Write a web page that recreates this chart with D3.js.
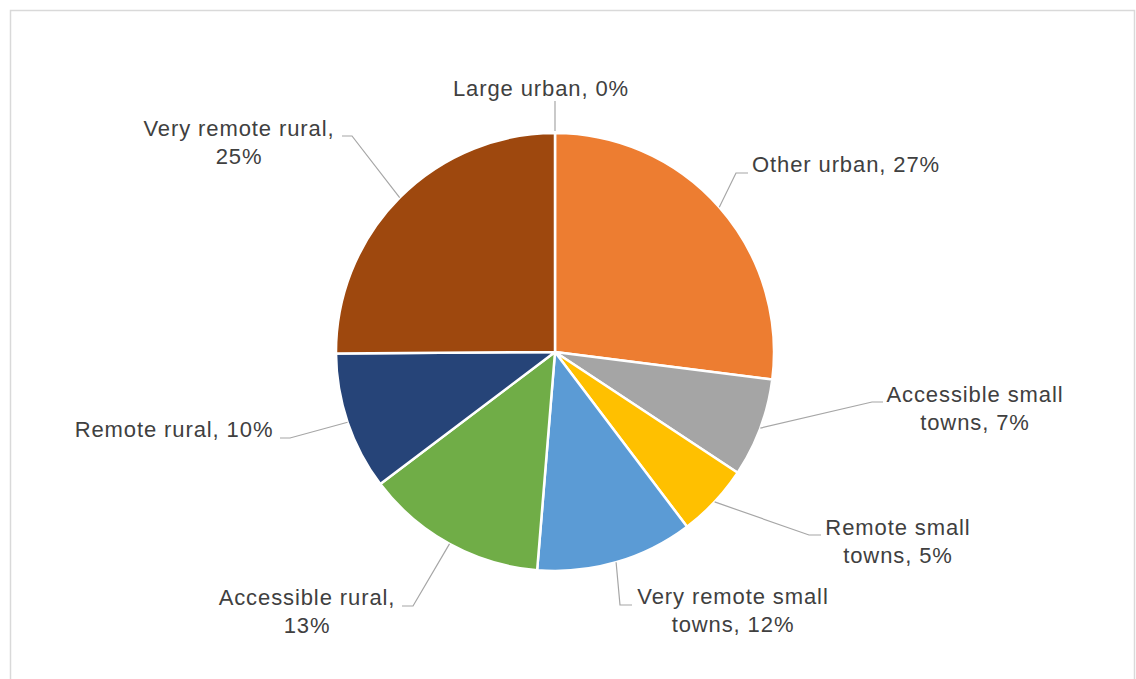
<!DOCTYPE html>
<html>
<head>
<meta charset="utf-8">
<script src="https://cdn.jsdelivr.net/npm/d3@7"></script>
<style>
  html, body { margin: 0; padding: 0; background: #ffffff; }
  svg { display: block; }
  .lbl { font-family: "Liberation Sans", Arial, sans-serif; font-size: 22px; fill: #404040; letter-spacing: 0.9px; }
</style>
</head>
<body>
<svg id="chart" width="1136" height="679"></svg>
<script>
// Settlement type shares (%), clockwise from 12 o'clock
const categories = [
  "Large urban",
  "Other urban",
  "Accessible small towns",
  "Remote small towns",
  "Very remote small towns",
  "Accessible rural",
  "Remote rural",
  "Very remote rural"
];
const shares = [0, 27.0, 7.3, 5.4, 11.6, 13.4, 10.2, 25.1];
const sliceColors = ["#4472C4", "#ED7D31", "#A5A5A5", "#FFC000", "#5B9BD5", "#70AD47", "#264478", "#9E480E"];

// How each category name is broken across label lines
const labelLines = [
  ["Large urban, {p}"],
  ["Other urban, {p}"],
  ["Accessible small", "towns, {p}"],
  ["Remote small", "towns, {p}"],
  ["Very remote small", "towns, {p}"],
  ["Accessible rural,", "{p}"],
  ["Remote rural, {p}"],
  ["Very remote rural,", "{p}"]
];

// Label placement: text centre x, first baseline y, and leader elbow/end points
const labelLayout = [
  { x: 541, y: 96,  elbow: [555, 101], end: [555, 101] },
  { x: 846, y: 172, elbow: [736, 173], end: [748, 173] },
  { x: 975, y: 402, elbow: [872, 402], end: [883, 402] },
  { x: 898, y: 535, elbow: [809, 535], end: [821, 535] },
  { x: 733, y: 604, elbow: [620, 605], end: [632, 605] },
  { x: 307, y: 605, elbow: [413, 606], end: [402, 606] },
  { x: 174, y: 437, elbow: [290, 438], end: [280, 438] },
  { x: 239, y: 136, elbow: [352, 136], end: [342, 136] }
];

const svg = d3.select("#chart");
const cx = 555, cy = 352, radius = 219;
const lineHeight = 28;

// Chart area frame
svg.append("rect")
  .attr("x", 10.5).attr("y", 10.5)
  .attr("width", 1124).attr("height", 700)
  .attr("fill", "none")
  .attr("stroke", "#d9d9d9")
  .attr("stroke-width", 1.5);

const data = categories.map((c, i) => ({ name: c, value: shares[i], i }));
const total = d3.sum(shares);

const pie = d3.pie().value(d => d.value).sort(null);
const arcs = pie(data);
const arc = d3.arc().innerRadius(0).outerRadius(radius);

const g = svg.append("g").attr("transform", `translate(${cx},${cy})`);

g.selectAll("path.slice")
  .data(arcs)
  .join("path")
  .attr("class", "slice")
  .attr("d", arc)
  .attr("fill", d => sliceColors[d.data.i])
  .attr("stroke", "#ffffff")
  .attr("stroke-width", 2.5)
  .attr("stroke-linejoin", "round");

// Leader lines from the outer edge at each slice's mid-angle
const leaders = svg.append("g");
arcs.forEach(d => {
  const mid = (d.startAngle + d.endAngle) / 2;
  const sx = cx + radius * Math.sin(mid);
  const sy = cy - radius * Math.cos(mid) - (d.data.value === 0 ? 2 : 0);
  const L = labelLayout[d.data.i];
  leaders.append("polyline")
    .attr("points", [[sx, sy], L.elbow, L.end].map(p => p.join(",")).join(" "))
    .attr("fill", "none")
    .attr("stroke", "#a6a6a6")
    .attr("stroke-width", 1.2);
});

// Data labels: "Category, NN%"
const labels = svg.append("g");
arcs.forEach(d => {
  const i = d.data.i;
  const pct = Math.round(d.data.value / total * 100) + "%";
  const L = labelLayout[i];
  const t = labels.append("text")
    .attr("class", "lbl")
    .attr("text-anchor", "middle");
  labelLines[i].forEach((ln, k) => {
    t.append("tspan")
      .attr("x", L.x)
      .attr("y", L.y + k * lineHeight)
      .text(ln.replace("{p}", pct));
  });
});
</script>
</body>
</html>
